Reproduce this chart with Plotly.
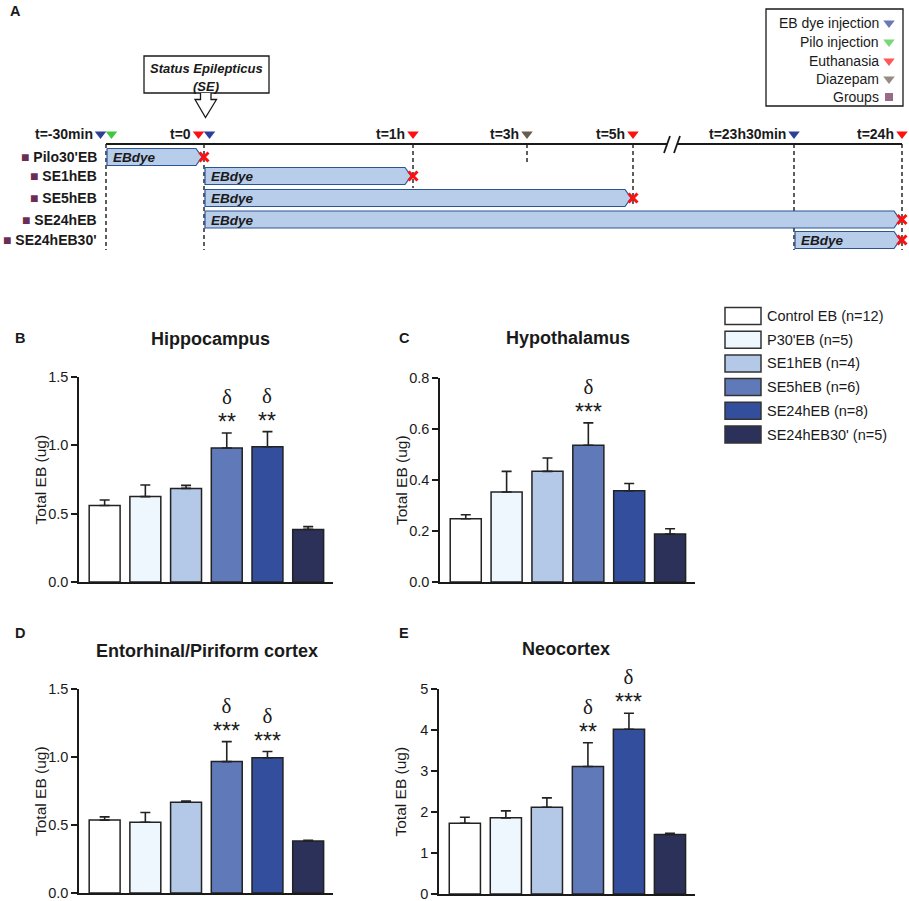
import plotly.graph_objects as go

W, H = 909, 901
FONT = "Liberation Sans, Arial, sans-serif"
SERIF = "Liberation Serif, Times New Roman, serif"
INK = "#1a1a1a"

# ---------------- Panel A (schematic timeline) data ----------------
time_labels = ["t=-30min", "t=0", "t=1h", "t=3h", "t=5h", "t=23h30min", "t=24h"]
time_pos = [106, 204, 413, 527, 633, 794, 902]          # schematic position on the broken axis
time_events = [["EB", "Pilo"], ["Euth", "EB"], ["Euth"], ["Diaz"], ["Euth"], ["EB"], ["Euth"]]
time_dash_end = [250, 250, 188, 162, 207, 250, 250]

event_keys = ["EB", "Pilo", "Euth", "Diaz", "Group"]
event_names = ["EB dye injection", "Pilo injection", "Euthanasia", "Diazepam", "Groups"]
event_colors = ["#2e3f97", "#3fc83f", "#ff1010", "#6b5a4e", "#6b2d55"]

groups = ["Pilo30'EB", "SE1hEB", "SE5hEB", "SE24hEB", "SE24hEB30'"]
group_start = [0, 1, 1, 1, 5]   # index into time_labels (EB dye injection)
group_end = [1, 2, 4, 6, 6]     # index into time_labels (euthanasia)
group_row_y = [157, 176, 198, 219.5, 240]

# ---------------- Panels B-E data ----------------
bar_groups = ["Control EB (n=12)", "P30'EB (n=5)", "SE1hEB (n=4)",
              "SE5hEB (n=6)", "SE24hEB (n=8)", "SE24hEB30' (n=5)"]
bar_colors = ["#ffffff", "#eef7fe", "#b4c8e8", "#5f79b9", "#344e9e", "#2b3158"]

hippo_mean = [0.56, 0.625, 0.685, 0.98, 0.99, 0.385]
hippo_sem = [0.04, 0.085, 0.022, 0.11, 0.11, 0.02]
hippo_sig = {3: "**", 4: "**"}

hypo_mean = [0.248, 0.353, 0.434, 0.536, 0.358, 0.188]
hypo_sem = [0.016, 0.081, 0.052, 0.088, 0.028, 0.021]
hypo_sig = {3: "***"}

ento_mean = [0.536, 0.52, 0.668, 0.966, 0.995, 0.383]
ento_sem = [0.024, 0.072, 0.008, 0.147, 0.045, 0.005]
ento_sig = {3: "***", 4: "***"}

neo_mean = [1.726, 1.857, 2.117, 3.11, 4.02, 1.45]
neo_sem = [0.147, 0.171, 0.228, 0.578, 0.39, 0.033]
neo_sig = {3: "**", 4: "***"}

fig = go.Figure()
annotations = []
shapes = []


def canvas_line(xs, ys, color=INK, width=1.5, dash=None):
    fig.add_trace(go.Scatter(x=xs, y=ys, mode="lines",
                             line=dict(color=color, width=width, dash=dash),
                             xaxis="x", yaxis="y", hoverinfo="skip", showlegend=False))


def txt(x, y, text, size=14, anchor="center", yanchor="middle", color=INK,
        family=FONT, xref="x", yref="y", angle=0):
    annotations.append(dict(x=x, y=y, text=text, xref=xref, yref=yref, showarrow=False,
                            xanchor=anchor, yanchor=yanchor, textangle=angle,
                            font=dict(size=size, color=color, family=family)))


# ---- timeline ----
TL_Y = 144
BREAK = 672
for pos, yend in zip(time_pos, time_dash_end):
    canvas_line([pos, pos], [TL_Y, yend], width=1.4, dash="4px,3px")

canvas_line([time_pos[0], BREAK - 5], [TL_Y, TL_Y], width=2)
canvas_line([BREAK + 5, time_pos[-1]], [TL_Y, TL_Y], width=2)
canvas_line([BREAK - 8, BREAK - 2], [153, 136], width=1.8)
canvas_line([BREAK + 2, BREAK + 8], [153, 136], width=1.8)

# group arrows (EB dye exposure)
HH = 8.5
for i, g in enumerate(groups):
    x0 = time_pos[group_start[i]] + 1
    x1 = time_pos[group_end[i]] - 2
    yc = group_row_y[i]
    fig.add_trace(go.Scatter(
        x=[x0, x1 - 6, x1, x1 - 6, x0, x0],
        y=[yc - HH, yc - HH, yc, yc + HH, yc + HH, yc - HH],
        mode="lines", fill="toself", fillcolor="#b8cdea",
        line=dict(color="#2b5592", width=1.2),
        xaxis="x", yaxis="y", hoverinfo="skip", showlegend=False))
    txt(x0 + 4, yc + 0.5, "<b><i>EBdye</i></b>", size=13.5, anchor="left")
    txt(99, yc, '<span style="color:#6b2d55">■</span> <b>%s</b>' % g, size=14, anchor="right")

# euthanasia crosses
fig.add_trace(go.Scatter(
    x=[time_pos[e] for e in group_end], y=group_row_y, mode="markers",
    marker=dict(symbol="x-thin-open", size=9, color="#ff1010", line=dict(width=3, color="#ff1010")),
    xaxis="x", yaxis="y", hoverinfo="skip", showlegend=False))

# event triangles + time labels
tx, ty, tc = [], [], []
for lab, pos, evs in zip(time_labels, time_pos, time_events):
    offs = [0] if len(evs) == 1 else [-5.5, 5.5]
    for ev, o in zip(evs, offs):
        tx.append(pos + o)
        ty.append(134)
        tc.append(event_colors[event_keys.index(ev)])
    txt(pos + offs[0] - 6, 134, "<b>%s</b>" % lab, size=14, anchor="right")
fig.add_trace(go.Scatter(x=tx, y=ty, mode="markers",
                         marker=dict(symbol="triangle-down", size=10, color=tc, line=dict(width=0)),
                         xaxis="x", yaxis="y", hoverinfo="skip", showlegend=False))

# event legend box
shapes.append(dict(type="rect", xref="x", yref="y", x0=766, x1=903, y0=9, y1=106,
                   line=dict(color=INK, width=1.3), fillcolor="white", layer="below"))
leg_y = [23, 42, 61, 79, 97]
for name, yy in zip(event_names, leg_y):
    txt(881, yy, name, size=14, anchor="right")
fig.add_trace(go.Scatter(
    x=[889] * 5, y=leg_y, mode="markers",
    marker=dict(symbol=["triangle-down"] * 4 + ["square"], size=[10, 10, 10, 10, 8],
                color=event_colors, line=dict(width=0)),
    xaxis="x", yaxis="y", hoverinfo="skip", showlegend=False))

# Status Epilepticus box + hollow arrow
shapes.append(dict(type="rect", xref="x", yref="y", x0=144, x1=269, y0=56, y1=93,
                   line=dict(color=INK, width=1.3), fillcolor="white"))
shapes.append(dict(type="path", xref="x", yref="y",
                   path="M 200.5 93 L 200.5 99.5 L 195 99.5 L 205.5 117.5 L 216.5 99.5 L 211 99.5 L 211 93",
                   line=dict(color=INK, width=1.3), fillcolor="white"))
txt(206, 68, "<b><i>Status Epilepticus</i></b>", size=13)
txt(206, 86, "<b><i>(SE)</i></b>", size=13)

# panel letters
for lab, (lx, ly) in zip("ABCDE", [(8, 11), (13, 338), (397, 338), (13, 633), (397, 633)]):
    txt(lx, ly, "<b>%s</b>" % lab, size=14.5, anchor="left")

# bar-chart legend
LEG_Y0, LEG_DY = 316, 23.7
for i, (g, c) in enumerate(zip(bar_groups, bar_colors)):
    yc = LEG_Y0 + LEG_DY * i
    shapes.append(dict(type="rect", xref="x", yref="y", x0=725, x1=761, y0=yc - 8.5, y1=yc + 8.5,
                       line=dict(color="#333", width=1.5), fillcolor=c))
    txt(765, yc, g, size=14.5, anchor="left")

# ---------------- bar panels ----------------
panels = [
    ("Hippocampus", hippo_mean, hippo_sem, hippo_sig, [0, 1.5], 0.5, ".1f", (79, 333, 377, 582), (210, 339)),
    ("Hypothalamus", hypo_mean, hypo_sem, hypo_sig, [0, 0.8], 0.2, ".1f", (440, 695, 378, 582), (568, 338)),
    ("Entorhinal/Piriform cortex", ento_mean, ento_sem, ento_sig, [0, 1.5], 0.5, ".1f", (79, 333, 689, 893), (207, 651)),
    ("Neocortex", neo_mean, neo_sem, neo_sig, [0, 5], 1, "d", (439, 695, 689, 894), (566, 649)),
]

layout_axes = {}
for k, (title, mean, sem, sig, yr, dt, fmt, (px0, px1, py0, py1), (tx0, ty0)) in enumerate(panels, start=2):
    fig.add_trace(go.Bar(
        x=bar_groups, y=mean, width=0.76,
        marker=dict(color=bar_colors, line=dict(color="#222", width=1.5)),
        error_y=dict(type="data", array=sem, arrayminus=[0] * len(sem), symmetric=False,
                     color="#222", thickness=1.6, width=5),
        xaxis="x%d" % k, yaxis="y%d" % k, hoverinfo="skip", showlegend=False))
    layout_axes["xaxis%d" % k] = dict(
        domain=[px0 / W, px1 / W], anchor="y%d" % k, type="category",
        range=[-0.63, 5.61], showline=True, linecolor=INK, linewidth=1.6,
        showticklabels=False, ticks="", showgrid=False, zeroline=False,
        fixedrange=True, automargin=False)
    layout_axes["yaxis%d" % k] = dict(
        domain=[1 - py1 / H, 1 - py0 / H], anchor="x%d" % k, range=yr,
        dtick=dt, tick0=0, tickformat=fmt, showline=True, linecolor=INK, linewidth=1.6,
        ticks="outside", ticklen=6, tickwidth=1.6, tickcolor=INK,
        tickfont=dict(size=14.5, family=FONT, color=INK), ticklabeloverflow="allow",
        showgrid=False, zeroline=False, fixedrange=True, automargin=False)
    txt(tx0, ty0, "<b>%s</b>" % title, size=18)
    ycen = 1 - (py0 + py1) / 2 / H
    txt((px0 - 39) / W, ycen, "Total EB (ug)", size=15.5, xref="paper", yref="paper", angle=-90)
    for idx, stars in sig.items():
        top = mean[idx] + sem[idx]
        label = ('<span style="font-family:Liberation Serif, serif;font-size:21px">δ</span><br>'
                 '<span style="font-size:23px">%s</span>' % stars)
        annotations.append(dict(x=bar_groups[idx], y=top, xref="x%d" % k, yref="y%d" % k,
                                text=label, showarrow=False, yanchor="bottom", yshift=-4,
                                font=dict(size=20, family=FONT, color=INK)))

fig.update_layout(
    width=W, height=H, margin=dict(l=0, r=0, t=0, b=0, pad=0, autoexpand=False),
    paper_bgcolor="white", plot_bgcolor="rgba(0,0,0,0)",
    xaxis=dict(domain=[0, 1], range=[0, W], visible=False, fixedrange=True, automargin=False),
    yaxis=dict(domain=[0, 1], range=[H, 0], visible=False, fixedrange=True, automargin=False),
    annotations=annotations, shapes=shapes, hovermode=False, showlegend=False,
    font=dict(family=FONT, color=INK), bargap=0.2,
    **layout_axes,
)

fig.write_html("out.html", config={"displayModeBar": False},
               post_script="document.body.style.margin='0';document.documentElement.style.margin='0';")
